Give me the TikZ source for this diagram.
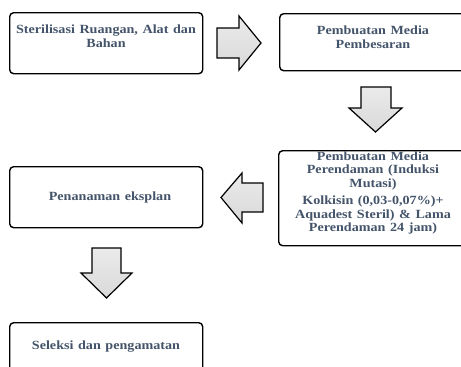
\documentclass[tikz,border=0pt]{standalone}
\usepackage{fontspec}
\setmainfont{Liberation Serif}[FakeStretch=1.13,WordSpace=1.3]
\definecolor{txt}{HTML}{44546A}
\begin{document}
\begin{tikzpicture}[x=1pt,y=-1pt,
  box/.style={draw=black, line width=1.4pt, rounded corners=4pt, fill=white, anchor=north west, inner sep=0pt},
  lbl/.style={text=txt, font=\bfseries\fontsize{12.5}{13.6}\selectfont, align=center, inner sep=0pt},
  blockarrow/.style={draw=black, line width=1.2pt, line join=miter, top color=gray!16, bottom color=gray!30}]
\useasboundingbox (0,0) rectangle (461,367);
\clip (0,0) rectangle (461,367);
% boxes
\node[box, minimum width=193pt, minimum height=61pt] (b1) at (9,12) {};
\node[box, minimum width=193pt, minimum height=57pt] (b2) at (279,13) {};
\node[box, minimum width=194pt, minimum height=95pt] (b3) at (278,150) {};
\node[box, minimum width=193pt, minimum height=61pt] (b4) at (9,166) {};
\node[box, minimum width=193pt, minimum height=61pt] (b5) at (9,322) {};
% labels
\node[lbl] (t1) at (106,36.5) {Sterilisasi Ruangan, Alat dan\\Bahan};
\node[lbl] (t2) at (373,37.5) {Pembuatan Media\\Pembesaran};
\node[lbl] (t3) at (373,193) {Pembuatan Media\\Perendaman (Induksi\\Mutasi)\\[3.5pt]Kolkisin (0,03-0,07\%)+\\Aquadest Steril) \& Lama\\Perendaman 24 jam)};
\node[lbl] (t4) at (110,197) {Penanaman eksplan};
\node[lbl] (t5) at (106,347) {Seleksi dan pengamatan};
% block arrows
\draw[blockarrow] (217,28) -- (239,28) -- (239,16) -- (261,43) -- (239,70) -- (239,58) -- (217,58) -- cycle;
\draw[blockarrow] (361,87) -- (391,87) -- (391,108) -- (402,108) -- (375.5,132) -- (349,108) -- (361,108) -- cycle;
\draw[blockarrow] (263,183) -- (242,183) -- (242,173) -- (221,197.5) -- (242,223) -- (242,212) -- (263,212) -- cycle;
\draw[blockarrow] (92,248) -- (121,248) -- (121,273) -- (132,273) -- (106.5,298) -- (81,273) -- (92,273) -- cycle;
\end{tikzpicture}
\end{document}
